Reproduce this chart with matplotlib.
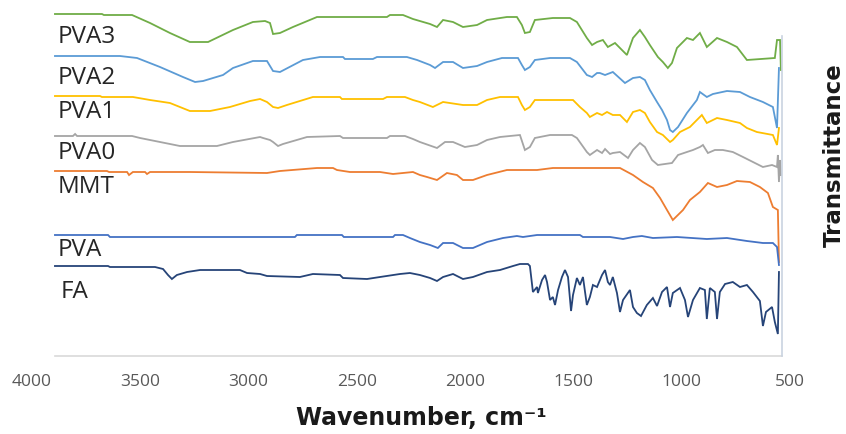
import matplotlib.pyplot as plt
import numpy as np

# ==================================================== #
# FTIR spectra (stacked, transmittance in arbitrary units)
# ==================================================== #
wn_pva3 = [3894, 3677, 3668, 3538, 3455, 3363, 3271, 3187, 3072, 2980, 2924, 2901, 2887, 2855, 2795, 2684,
           2361, 2347, 2287, 2241, 2162, 2130, 2102, 2056, 2010, 1945, 1899, 1807, 1761, 1738, 1724, 1701,
           1678, 1595, 1516, 1484, 1438, 1414, 1391, 1364, 1341, 1308, 1253, 1225, 1193, 1170, 1147, 1110,
           1087, 1064, 1045, 1022, 976, 948, 916, 884, 837, 791, 745, 699, 570, 560, 546, 542]
t_pva3 = [386, 386, 385, 385, 377, 367, 358, 358, 370, 378, 379, 377, 366, 367, 373, 383,
          383, 385, 385, 381, 376, 373, 380, 378, 373, 375, 380, 383, 383, 375, 367, 368,
          380, 382, 382, 378, 362, 355, 358, 360, 353, 357, 345, 362, 370, 363, 355, 343,
          338, 332, 337, 352, 362, 360, 367, 353, 362, 358, 353, 340, 342, 360, 360, 330]

wn_pva2 = [3894, 3594, 3515, 3409, 3303, 3247, 3210, 3118, 3072, 2980, 2915, 2887, 2855, 2749, 2670, 2564,
           2555, 2426, 2407, 2269, 2222, 2162, 2139, 2102, 2056, 2010, 1945, 1899, 1830, 1756, 1738, 1724,
           1701, 1678, 1608, 1516, 1484, 1438, 1414, 1391, 1378, 1354, 1318, 1262, 1225, 1193, 1170, 1147,
           1114, 1091, 1068, 1054, 1041, 1017, 976, 930, 916, 884, 856, 791, 731, 685, 625, 579, 560, 551]
t_pva2 = [344, 344, 342, 333, 323, 318, 319, 325, 332, 339, 339, 329, 328, 340, 343, 343,
          341, 341, 343, 343, 340, 335, 332, 338, 338, 332, 334, 338, 342, 342, 335, 330,
          333, 340, 342, 342, 338, 325, 323, 327, 327, 325, 328, 317, 322, 323, 320, 310,
          298, 290, 280, 270, 268, 273, 287, 300, 308, 303, 306, 309, 308, 303, 298, 293, 272, 332]

wn_pva1 = [3894, 3686, 3677, 3534, 3455, 3363, 3271, 3178, 3086, 2993, 2947, 2915, 2887, 2864, 2823, 2703,
           2578, 2569, 2379, 2361, 2278, 2241, 2209, 2149, 2102, 2010, 1945, 1899, 1839, 1756, 1738, 1724,
           1701, 1678, 1502, 1470, 1438, 1424, 1391, 1368, 1345, 1318, 1285, 1253, 1225, 1193, 1170, 1147,
           1114, 1087, 1054, 1041, 1008, 962, 930, 907, 884, 837, 791, 731, 699, 653, 579, 560, 551]
t_pva1 = [304, 304, 303, 303, 300, 297, 289, 289, 293, 299, 301, 298, 293, 292, 295, 303,
          303, 301, 301, 303, 303, 300, 298, 293, 298, 295, 295, 300, 303, 303, 295, 290,
          293, 300, 300, 293, 287, 283, 287, 285, 288, 285, 285, 278, 288, 290, 287, 278,
          268, 265, 258, 260, 268, 273, 280, 285, 277, 282, 280, 277, 272, 268, 265, 255, 272]

wn_pva0 = [3894, 3811, 3801, 3792, 3538, 3501, 3409, 3317, 3146, 3072, 2947, 2933, 2901, 2887, 2864, 2841,
           2730, 2578, 2564, 2361, 2347, 2278, 2241, 2209, 2130, 2093, 2056, 2001, 1945, 1899, 1839, 1747,
           1724, 1701, 1678, 1608, 1507, 1484, 1438, 1424, 1391, 1368, 1354, 1331, 1318, 1285, 1248, 1225,
           1193, 1170, 1137, 1110, 1045, 1017, 976, 948, 916, 902, 879, 847, 810, 764, 717, 671, 625, 583,
           560, 556, 551, 546, 542]
t_pva0 = [264, 264, 266, 264, 264, 262, 258, 254, 254, 258, 263, 262, 260, 258, 254, 256,
          263, 264, 262, 262, 264, 264, 261, 258, 252, 258, 258, 253, 255, 260, 263, 265,
          250, 253, 262, 265, 265, 262, 248, 245, 250, 247, 251, 246, 247, 248, 242, 250,
          257, 253, 240, 235, 237, 245, 248, 250, 253, 255, 247, 250, 250, 248, 243, 238, 233, 235,
          233, 245, 218, 240, 225]

wn_mmt = [3894, 3654, 3644, 3561, 3552, 3534, 3478, 3469, 3455, 3271, 2915, 2855, 2684, 2610, 2592, 2532,
          2393, 2333, 2241, 2209, 2176, 2130, 2084, 2038, 2010, 1964, 1899, 1807, 1668, 1595, 1285, 1225,
          1179, 1133, 1100, 1068, 1041, 994, 962, 916, 879, 837, 791, 745, 685, 639, 602, 579, 556, 551]
t_mmt = [229, 229, 228, 228, 225, 228, 228, 226, 228, 228, 227, 229, 232, 232, 230, 228,
         228, 226, 228, 225, 223, 220, 227, 225, 220, 220, 225, 230, 230, 232, 232, 225,
         218, 212, 202, 190, 180, 190, 200, 208, 217, 213, 215, 219, 218, 213, 207, 193, 190, 138]

wn_pva = [3894, 3649, 3640, 2786, 2777, 2569, 2560, 2333, 2324, 2287, 2255, 2209, 2162, 2126, 2102, 2056,
          2010, 1964, 1899, 1825, 1761, 1733, 1668, 1470, 1456, 1331, 1271, 1225, 1184, 1133, 1022, 884,
          791, 699, 625, 579, 560, 551]
t_pva = [165, 165, 163, 163, 165, 165, 163, 163, 165, 165, 162, 158, 155, 152, 157, 157,
         152, 152, 158, 162, 164, 163, 165, 165, 163, 163, 161, 163, 164, 162, 163, 161,
         162, 159, 157, 157, 153, 135]

wn_fa = [3894, 3649, 3640, 3432, 3395, 3372, 3354, 3331, 3284, 3224, 3040, 3007, 2947, 2915, 2763, 2703,
         2578, 2564, 2453, 2393, 2301, 2255, 2209, 2162, 2130, 2102, 2056, 2010, 1964, 1899, 1839, 1779,
         1747, 1710, 1701, 1687, 1668, 1664, 1645, 1631, 1622, 1608, 1595, 1585, 1571, 1553, 1539, 1525,
         1511, 1502, 1484, 1470, 1456, 1438, 1424, 1410, 1391, 1368, 1354, 1341, 1331, 1318, 1299, 1285,
         1271, 1239, 1225, 1207, 1188, 1161, 1133, 1114, 1091, 1068, 1054, 1041, 1008, 985, 971, 948,
         916, 893, 884, 870, 847, 837, 824, 800, 764, 731, 699, 671, 639, 625, 611, 583,
         570, 556, 551]
t_fa = [134, 134, 133, 133, 131, 125, 121, 125, 128, 130, 130, 127, 126, 124, 123, 126,
        125, 122, 121, 123, 126, 127, 125, 122, 119, 123, 126, 121, 123, 128, 130, 134,
        136, 136, 134, 108, 113, 107, 120, 125, 118, 100, 103, 95, 110, 123, 130, 123,
        89, 105, 122, 115, 123, 95, 103, 115, 113, 125, 130, 118, 115, 123, 107, 88,
        100, 110, 93, 87, 84, 95, 102, 94, 108, 113, 93, 107, 112, 100, 83, 100,
        112, 110, 81, 112, 108, 81, 108, 116, 118, 113, 115, 108, 99, 74, 88, 93,
        78, 66, 128]

labels = ['PVA3', 'PVA2', 'PVA1', 'PVA0', 'MMT', 'PVA', 'FA']
colors = ['#70AD47', '#5B9BD5', '#FFC000', '#A5A5A5', '#ED7D31', '#4472C4', '#264478']
spectra = [(wn_pva3, t_pva3), (wn_pva2, t_pva2), (wn_pva1, t_pva1), (wn_pva0, t_pva0),
           (wn_mmt, t_mmt), (wn_pva, t_pva), (wn_fa, t_fa)]

# label anchors (wavenumber, transmittance) placed below each trace start
label_pos = [(3880, 363), (3880, 322), (3880, 288), (3880, 247), (3880, 213), (3880, 150), (3870, 108)]

# ==================================================== #
def ftir_plot():
    fig = plt.figure(figsize=(8.46, 4.34), dpi=100)
    ax = fig.add_axes([32/846, 78/434, 758/846, 351/434])
    for (wn, t), c in zip(spectra, colors):
        ax.plot(wn, t, color=c, lw=1.3, solid_joinstyle='miter')
    for lab, (x, y) in zip(labels, label_pos):
        ax.text(x, y, lab, fontsize=17.5, family='Open Sans', color='#262626',
                ha='left', va='center')
    ax.set_xlim(4000, 500)
    ax.set_ylim(44, 395)
    for s in ax.spines.values():
        s.set_visible(False)
    # bottom axis line and right hand axis line (only over the data range)
    ax.axhline(44, xmin=23/758, xmax=750/758, color='#D9D9D9', lw=1.2, clip_on=False)
    ax.plot([537, 537], [44, 364], color='#C9D3E0', lw=1.2, clip_on=False)
    ax.set_xticks(np.arange(4000, 499, -500))
    ax.set_yticks([])
    ax.tick_params(axis='x', length=0, pad=13, labelsize=12.5, labelcolor='#595959')
    for lab in ax.get_xticklabels():
        lab.set_family('Open Sans')
    fig.text(421/846, 9/434, 'Wavenumber, cm\u207b\u00b9', ha='center', va='baseline',
             fontsize=17, fontweight='bold', color='#1a1a1a')
    fig.text(834/846, 1 - 155/434, 'Transmittance', rotation=90, ha='center', va='center',
             fontsize=16.5, fontweight='bold', color='#1a1a1a')
    fig.savefig('out.png', dpi=100)

ftir_plot()
